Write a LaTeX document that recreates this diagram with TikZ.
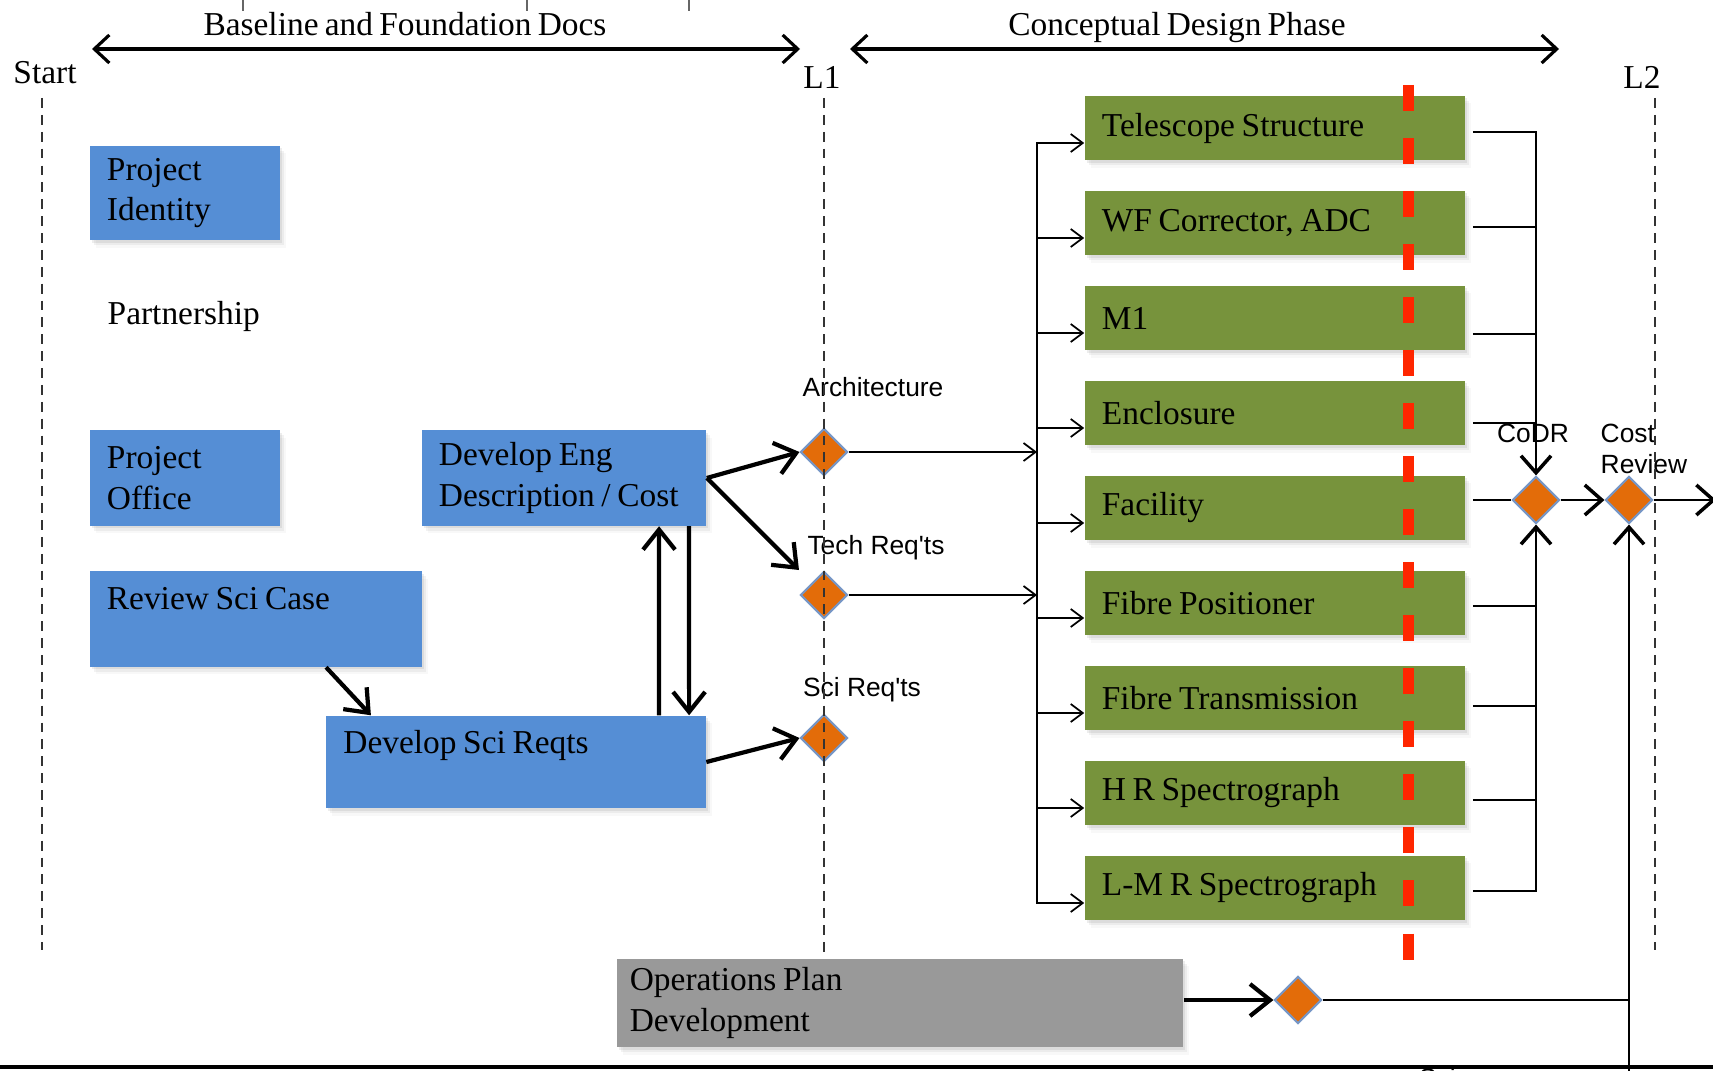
\documentclass[tikz,border=0pt]{standalone}
\usepackage{fontspec}
\setmainfont{Liberation Serif}[WordSpace=0.75]
\newfontfamily\lblfont{Liberation Sans}
\usetikzlibrary{shapes.geometric,shadows,arrows.meta}
\definecolor{boxblue}{RGB}{85,142,213}
\definecolor{boxgreen}{RGB}{119,147,60}
\definecolor{boxgrey}{RGB}{153,153,153}
\definecolor{msorange}{RGB}{227,108,9}
\definecolor{msedge}{RGB}{118,150,198}
\definecolor{cutred}{RGB}{255,38,0}

\begin{document}
\begin{tikzpicture}[x=0.01cm,y=-0.01cm,
    txt/.style={font=\fontsize{9.5}{11.5}\selectfont},
    box/.style={txt,align=left,inner xsep=0.17cm,inner ysep=0pt,
      execute at begin node={\spaceskip=0.2em plus 0.05em\relax},
      drop shadow={shadow xshift=0.02cm,shadow yshift=-0.025cm,opacity=0.14},
      drop shadow={shadow xshift=0.04cm,shadow yshift=-0.05cm,opacity=0.1},
      drop shadow={shadow xshift=0.06cm,shadow yshift=-0.075cm,opacity=0.06}},
    bluebox/.style={box,fill=boxblue},
    greenbox/.style={box,fill=boxgreen,text width=3.46cm,minimum height=0.64cm},
    milestone/.style={diamond,fill=msorange,draw=msedge,line width=0.6pt,
      minimum width=0.47cm,minimum height=0.47cm,inner sep=0pt},
    lbl/.style={font=\lblfont\fontsize{7.5}{8.6}\selectfont},
    gate/.style={black!80,line width=0.6pt,dash pattern=on 2.8pt off 2pt},
    hdrarrow/.style={{Straight Barb[length=1.5mm,width=2.8mm]}-{Straight Barb[length=1.5mm,width=2.8mm]},line width=0.9pt},
    thickarrow/.style={-{Straight Barb[length=2mm,width=3.2mm]},line width=1.2pt},
    midarrow/.style={-{Straight Barb[length=1.7mm,width=3mm,line width=1pt]},line width=0.6pt},
    thinarrow/.style={-{Straight Barb[length=1.2mm,width=1.8mm]},line width=0.5pt},
    thinline/.style={line width=0.5pt}]
  \clip (0,0) rectangle (1713,1070);
  \useasboundingbox (0,0) rectangle (1713,1070);

  % top of the page
  \foreach \x in {243,527,689}
    \draw[black!60,line width=0.6pt] (\x,0) -- (\x,11);
  \node[txt,anchor=base] (basehdr) at (405,36) {Baseline and Foundation Docs};
  \node[txt,anchor=base] (concepthdr) at (1177,36) {Conceptual Design Phase};
  \coordinate (bl) at (92,49);
  \coordinate (br) at (800,49);
  \coordinate (cl) at (850,49);
  \coordinate (cr) at (1559,49);
  \draw[hdrarrow] (bl) -- (br);
  \draw[hdrarrow] (cl) -- (cr);
  \node[txt,anchor=base] (startlbl) at (45,84) {Start};
  \node[txt,anchor=base] (lonelbl) at (822,89) {L1};
  \node[txt,anchor=base] (ltwolbl) at (1642,89) {L2};

  % baseline docs
  \node[bluebox,text width=1.56cm,minimum height=0.94cm] (ident) at (185,193) {Project\\Identity};
  \node[txt,anchor=west,inner sep=0pt] (partner) at (107,316) {Partnership};
  \node[bluebox,text width=1.56cm,minimum height=0.95cm] (office) at (185,478) {Project\\Office};
  \node[bluebox,text width=2.98cm,minimum height=0.95cm] (scicase) at (256,619) {Review Sci Case\\\mbox{}};
  \node[bluebox,text width=2.50cm,minimum height=0.95cm] (engdesc) at (564,478) {Develop Eng\\Description / Cost};
  \node[bluebox,text width=3.45cm,minimum height=0.92cm] (scireq) at (516,762) {Develop Sci Reqts\\\mbox{}};
  \node[box,fill=boxgrey,inner xsep=0.13cm,text width=5.40cm,minimum height=0.88cm] (opsplan) at (900,1003) {Operations Plan\\Development};

  \draw[thickarrow] ([xshift=0.7cm]scicase.south) -- ([xshift=-1.45cm]scireq.north);
  \draw[thickarrow] ([xshift=1.43cm]scireq.north) -- ([xshift=0.95cm]engdesc.south);
  \draw[thickarrow] ([xshift=1.25cm]engdesc.south) -- ([xshift=1.73cm]scireq.north);

  % milestones
  \node[milestone] (arch) at (824,452) {};
  \node[milestone] (tech) at (824,595) {};
  \node[milestone] (sci) at (824,738) {};
  \node[milestone] (codr) at (1536,500) {};
  \node[milestone] (costrev) at (1629,500) {};
  \node[milestone] (opsms) at (1298,1000) {};
  \node[lbl] (archlbl) at (873,387) {Architecture};
  \node[lbl] (techlbl) at (876,548) {Tech Req'ts};
  \node[lbl] (scilbl) at (862,690) {Sci Req'ts};
  \node[lbl] (codrlbl) at (1533,433) {CoDR};
  \node[lbl,align=left,anchor=west,inner sep=0pt] (costlbl) at (1600,449) {Cost\\Review};
  \node[lbl,anchor=north] (sciencelbl) at (1466,1056) {Science};

  \draw[thickarrow] (engdesc.east) -- (arch.west);
  \draw[thickarrow,shorten >=0.18cm] (engdesc.east) -- (tech.north west);
  \draw[thickarrow] (scireq.east) -- (sci.west);

  % conceptual design work packages
  \foreach \n/\t [count=\i] in {ts/Telescope Structure,wf/{WF Corrector, ADC},mone/M1,
      encl/Enclosure,fac/Facility,fpos/Fibre Positioner,ftx/Fibre Transmission,
      hrs/H R Spectrograph,lmrs/L-M R Spectrograph}
    \node[greenbox] (\n) at (1275,33+95*\i) {\t};

  \coordinate (ltop) at (1037,143);
  \coordinate (lbot) at (1037,904);
  \draw[thinline] (ltop) -- (lbot);
  \draw[thinarrow] (arch.east) -- (arch -| ltop);
  \draw[thinarrow] (tech.east) -- (tech -| ltop);
  \foreach \n in {ts,wf,mone,encl,fac,fpos,ftx,hrs,lmrs}
    \draw[thinarrow] (\n.west) ++(-48,15) -- ++(48,0);

  \foreach \n/\d in {wf/4,mone/16,encl/10,fpos/3,ftx/8,hrs/7}
    \draw[thinline] (\n.east) ++(7,\d) -- ++(64,0);
  \draw[thinline] (fac.east) ++(7,-8) -- (codr.west);
  \draw[midarrow] (ts.east) ++(7,4) -| (codr.north);
  \draw[midarrow] (lmrs.east) ++(7,3) -| (codr.south);

  \coordinate (cout) at (1716,500);
  \coordinate (cbot) at (1629,1075);
  \draw[midarrow] (codr.east) -- (costrev.west);
  \draw[midarrow] (costrev.east) -- (cout);
  \draw[midarrow] (cbot) -- (costrev.south);
  \draw[thickarrow] (opsplan.east |- opsms) -- (opsms.west);
  \draw[thinline] (opsms.east) -- (cbot |- opsms);

  % gates
  \draw[gate] (42,98) -- (42,950);
  \draw[gate] (824,98) -- (824,958);
  \draw[gate] (1655,98) -- (1655,950);
  \draw[cutred,line width=0.11cm,dash pattern=on 0.26cm off 0.27cm] (1408,85) -- (1408,961);

  \draw[line width=0.9pt] (0,1067) -- (1713,1067);
\end{tikzpicture}
\end{document}
